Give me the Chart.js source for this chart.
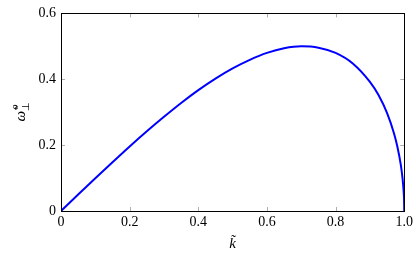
<!DOCTYPE html>
<html>
<head>
<meta charset="utf-8">
<script src="https://cdn.jsdelivr.net/npm/chart.js@4/dist/chart.umd.min.js"></script>
<style>
  html, body { margin: 0; padding: 0; background: #fff; }
  #wrap { width: 416px; height: 258px; }
</style>
</head>
<body>
<div id="wrap"><canvas id="myChart" width="416" height="258"></canvas></div>
<script>
// valores
var kTil = [0, 0.05, 0.1, 0.15, 0.2, 0.25, 0.3, 0.35, 0.4, 0.45, 0.5, 0.55, 0.6, 0.65, 0.7, 0.75, 0.8, 0.85, 0.9, 0.925, 0.95, 0.97, 0.98, 0.99, 0.995, 0.998, 0.9995, 1];
var omega = [0, 0.05, 0.0995, 0.148, 0.196, 0.242, 0.286, 0.328, 0.367, 0.402, 0.433, 0.459, 0.48, 0.494, 0.5, 0.496, 0.48, 0.448, 0.392, 0.352, 0.297, 0.236, 0.195, 0.14, 0.099, 0.063, 0.032, 0];
var xTicks = [0, 0.2, 0.4, 0.6, 0.8, 1];
var yTicks = [0, 0.2, 0.4, 0.6];

var serif = 'Liberation Serif';

var pontos = kTil.map(function (k, i) { return { x: k, y: omega[i] }; });

// moldura, ticks para dentro e títulos dos eixos
var moldura = {
  id: 'moldura',
  afterDraw: function (chart) {
    var c = chart.ctx;
    var a = chart.chartArea;
    var sx = chart.scales.x, sy = chart.scales.y;
    c.save();
    c.strokeStyle = '#999';
    c.lineWidth = 0.8;
    c.beginPath();
    xTicks.forEach(function (v) {
      var px = Math.round(sx.getPixelForValue(v)) + 0.5;
      c.moveTo(px, a.bottom); c.lineTo(px, a.bottom - 4);
      c.moveTo(px, a.top); c.lineTo(px, a.top + 4);
    });
    yTicks.forEach(function (v) {
      var py = Math.round(sy.getPixelForValue(v)) + 0.5;
      c.moveTo(a.left, py); c.lineTo(a.left + 4, py);
      c.moveTo(a.right, py); c.lineTo(a.right - 4, py);
    });
    c.stroke();
    c.strokeStyle = '#000';
    c.lineWidth = 1;
    c.strokeRect(Math.round(a.left) + 0.5, Math.round(a.top) + 0.5, Math.round(a.right - a.left), Math.round(a.bottom - a.top));

    c.fillStyle = '#000';
    // título do eixo x
    c.font = 'italic 15px "' + serif + '"';
    c.textAlign = 'center';
    c.textBaseline = 'alphabetic';
    c.fillText('k\u0303', (a.left + a.right) / 2, 248);
    // título do eixo y (rotacionado)
    c.translate(25, (a.top + a.bottom) / 2);
    c.rotate(-Math.PI / 2);
    c.textAlign = 'left';
    c.font = 'italic 15px "' + serif + '"';
    var w = c.measureText('\u03c9\u0303').width;
    var x0 = -(w + 8) / 2;
    c.fillText('\u03c9\u0303', x0, 0);
    c.font = 'italic 10px "' + serif + '"';
    c.fillText('o', x0 + w + 1.5, -7);
    c.font = '10px "' + serif + '"';
    c.fillText('\u22a5', x0 + w, 4);
    c.restore();
  }
};

var ctx = document.getElementById('myChart');
var myChart = new Chart(ctx, {
  type: 'scatter',
  data: {
    datasets: [{
      data: pontos,
      showLine: true,
      borderColor: '#0000ff',
      borderWidth: 2,
      pointRadius: 0,
      cubicInterpolationMode: 'monotone',
      fill: false
    }]
  },
  options: {
    responsive: false,
    animation: false,
    layout: { padding: { top: 11, right: 9, left: 0, bottom: 0 } },
    plugins: { legend: { display: false }, tooltip: { enabled: false } },
    scales: {
      x: {
        type: 'linear', min: 0, max: 1,
        afterFit: function (s) { s.height = 47; },
        afterBuildTicks: function (s) { s.ticks = xTicks.map(function (v) { return { value: v }; }); },
        grid: { display: false, drawTicks: false },
        border: { display: false },
        ticks: { color: '#000', padding: 3, maxRotation: 0, font: { family: serif, size: 14 } }
      },
      y: {
        type: 'linear', min: 0, max: 0.6,
        afterFit: function (s) { s.width = 61; },
        afterBuildTicks: function (s) { s.ticks = yTicks.map(function (v) { return { value: v }; }); },
        grid: { display: false, drawTicks: false },
        border: { display: false },
        ticks: { color: '#000', padding: 5, font: { family: serif, size: 14 } }
      }
    }
  },
  plugins: [moldura]
});
</script>
</body>
</html>
